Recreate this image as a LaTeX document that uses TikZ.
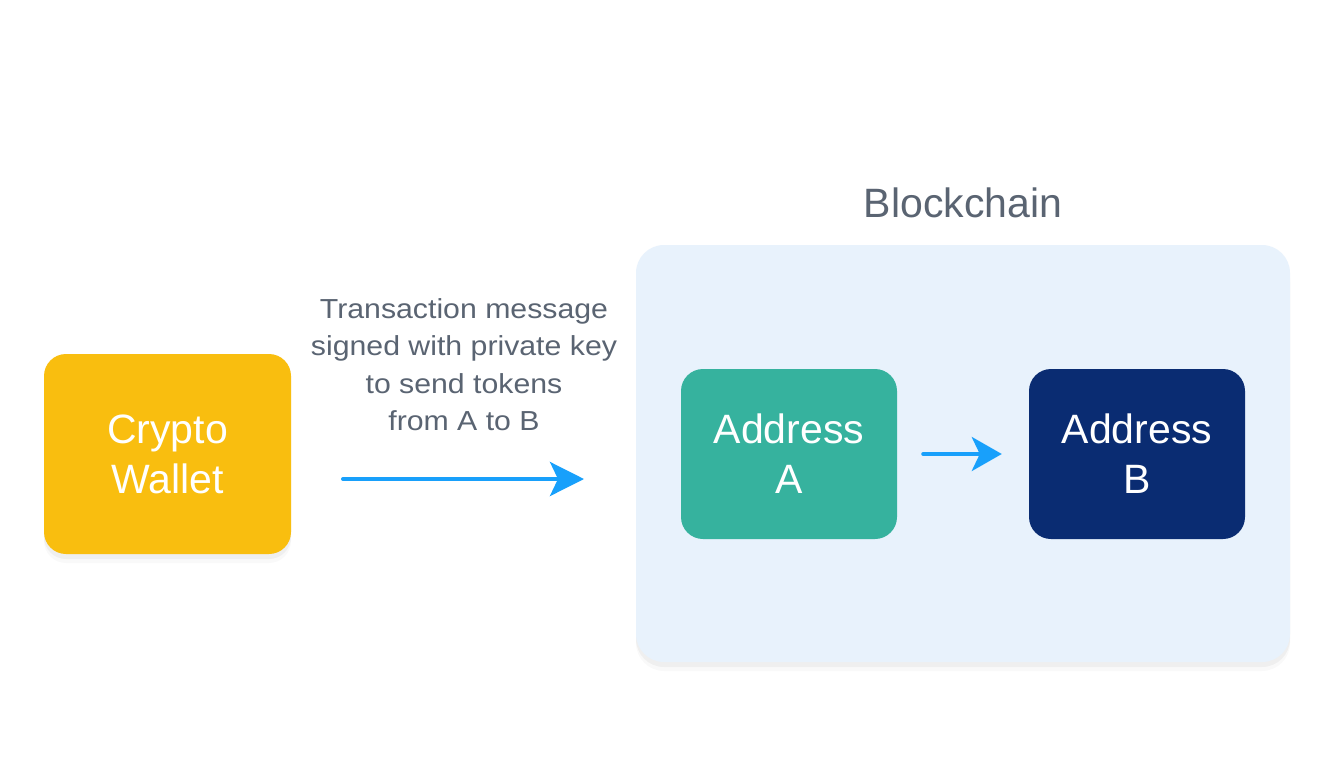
\documentclass[tikz,border=0pt]{standalone}
\usepackage{fontspec}
\setmainfont{Liberation Sans}
\newfontfamily\msgfont[FakeStretch=1.1]{Liberation Sans}
\usetikzlibrary{arrows.meta,shadows,calc}
\definecolor{wallet}{HTML}{F9BE0F}
\definecolor{chainbg}{HTML}{E8F2FC}
\definecolor{addra}{HTML}{36B29E}
\definecolor{addrb}{HTML}{0A2C72}
\definecolor{arrowc}{HTML}{18A0FB}
\definecolor{txtgray}{HTML}{5A6472}
\tikzset{
  box/.style={rounded corners=22pt, inner sep=0pt, align=center, text=white, font=\fontsize{41}{50}\selectfont},
  conn/.style={draw=arrowc, line width=4pt, line cap=round, -{Stealth[length=34pt,width=34pt,inset=8pt]}},
  conn2/.style={draw=arrowc, line width=4pt, line cap=round, -{Stealth[length=30pt,width=34pt,inset=8pt]}},
  softshadow/.style={drop shadow={shadow xshift=0pt, shadow yshift=-5pt, opacity=0.04, fill=black},
                     drop shadow={shadow xshift=0pt, shadow yshift=-9pt, opacity=0.025, fill=black}},
}
\begin{document}
\begin{tikzpicture}[x=1pt,y=-1pt]
\useasboundingbox[fill=white] (0,0) rectangle (1334,772);
% blockchain container
\node[rounded corners=28pt, fill=chainbg, minimum width=654pt, minimum height=417pt, inner sep=0pt, softshadow] (chain) at (963,453.5) {};
\node[text=txtgray, font=\fontsize{41}{48}\selectfont] (chainlbl) at (963,203) {Blockchain};
% wallet
\node[box, fill=wallet, minimum width=247pt, minimum height=200pt, softshadow] (wallet) at (167.5,454) {Crypto\\Wallet};
% addresses
\node[box, fill=addra, minimum width=216pt, minimum height=170pt] (a) at (789,454) {Address\\A};
\node[box, fill=addrb, minimum width=216pt, minimum height=170pt] (b) at (1137,454) {Address\\B};
% message label
\node[text=txtgray, align=center, font=\msgfont\fontsize{27.5}{37.5}\selectfont] (msg) at (464,364.5) {Transaction message\\signed with private key\\to send tokens\\from A to B};
% arrows
\coordinate (s1) at (343,479);
\coordinate (e1) at (584,479);
\draw[conn] (s1) -- (e1);
\coordinate (s2) at ($(a.east)+(26pt,0)$);
\coordinate (e2) at ($(b.west)+(-27pt,0)$);
\draw[conn2] (s2) -- (e2);
\end{tikzpicture}
\end{document}
